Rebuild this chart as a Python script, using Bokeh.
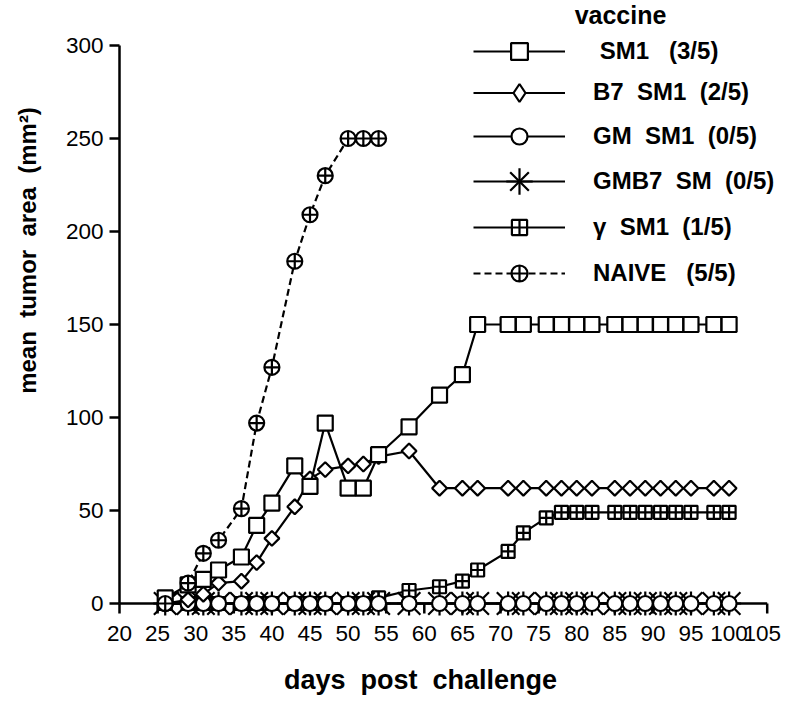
import math
from bokeh.plotting import figure
from bokeh.models import Range1d, Legend, LegendItem, Label
from bokeh.embed import file_html
from bokeh.resources import INLINE
from bokeh.core.properties import value

# ---- data ----
days = [26, 29, 31, 33, 36, 38, 40, 43, 45, 47, 50, 52, 54, 58, 62, 65, 67,
        71, 73, 76, 78, 80, 82, 85, 87, 89, 91, 93, 95, 98, 100]
sm1 = [3, 10, 13, 18, 25, 42, 54, 74, 63, 97, 62, 62, 80, 95, 112, 123, 150,
       150, 150, 150, 150, 150, 150, 150, 150, 150, 150, 150, 150, 150, 150]
b7_sm1 = [0, 2, 5, 11, 12, 22, 35, 52, 67, 72, 74, 75, 79, 82, 62, 62, 62,
          62, 62, 62, 62, 62, 62, 62, 62, 62, 62, 62, 62, 62, 62]
gm_sm1 = [0] * len(days)
gmb7_sm = [0] * len(days)
gamma_sm1 = [0, 0, 0, 0, 0, 0, 0, 0, 0, 0, 0, 0, 3, 7, 9, 12, 18,
             28, 38, 46, 49, 49, 49, 49, 49, 49, 49, 49, 49, 49, 49]
naive_days = [26, 29, 31, 33, 36, 38, 40, 43, 45, 47, 50, 52, 54]
naive = [0, 11, 27, 34, 51, 97, 127, 184, 209, 230, 250, 250, 250]

NB = "\u00a0"
labels = [NB + "SM1" + NB * 3 + "(3/5)",
          "B7" + NB * 2 + "SM1" + NB * 2 + "(2/5)",
          "GM" + NB * 2 + "SM1" + NB * 2 + "(0/5)",
          "GMB7" + NB * 2 + "SM" + NB * 2 + "(0/5)",
          "\u03b3" + NB * 2 + "SM1" + NB * 2 + "(1/5)",
          "NAIVE" + NB * 3 + "(5/5)"]
legend_title = "vaccine"
x_ticks = list(range(20, 106, 5))
y_ticks = list(range(0, 301, 50))
x_title = "days" + NB * 2 + "post" + NB * 2 + "challenge"
y_title = "mean" + NB * 2 + "tumor" + NB * 2 + "area" + NB * 2 + "(mm\u00b2)"

FONT = "Liberation Sans"

# ---- layout (pixels) ----
W, H = 783, 696
AX_X, AX_Y = 119, 603      # canvas pixel of the axes origin (day 20, 0 mm2)
PX_X = 7.62                # px per day
PX_Y = 1.86                # px per mm2
XA = x_ticks[0]
X0 = XA - AX_X / PX_X
X1 = XA + (W - AX_X) / PX_X
Y0 = -(H - AX_Y) / PX_Y
Y1 = AX_Y / PX_Y

p = figure(width=W, height=H, output_backend="svg", toolbar_location=None,
           title=None, x_axis_location=None, y_axis_location=None,
           x_range=Range1d(X0, X1), y_range=Range1d(Y0, Y1),
           min_border_left=0, min_border_right=0, min_border_top=0,
           min_border_bottom=0)
p.outline_line_color = None
p.grid.visible = False
p.background_fill_color = "white"

AXW = 2.5
TICK = 10
# x axis: line at 0, downward ticks, labels (last label nudged left, as in the original)
p.segment(x0=[x_ticks[0]], y0=[0], x1=[x_ticks[-1]], y1=[0], line_color="black", line_width=AXW)
p.segment(x0=x_ticks, y0=[0] * len(x_ticks), x1=x_ticks,
          y1=[-TICK / PX_Y] * len(x_ticks), line_color="black", line_width=AXW)
x_off = [0] * (len(x_ticks) - 1) + [-5]
p.text(x=x_ticks, y=[-30 / PX_Y] * len(x_ticks), text=[str(t) for t in x_ticks],
       x_offset=x_off, text_font=value(FONT), text_font_size="22.5px", text_color="black",
       text_align="center", text_baseline="middle")
# y axis: line at day 20, left ticks, labels
p.segment(x0=[XA], y0=[y_ticks[0]], x1=[XA], y1=[y_ticks[-1]], line_color="black", line_width=AXW)
p.segment(x0=[XA - TICK / PX_X] * len(y_ticks), y0=y_ticks, x1=[XA] * len(y_ticks),
          y1=y_ticks, line_color="black", line_width=AXW)
p.text(x=[XA - 16 / PX_X] * len(y_ticks), y=y_ticks, text=[str(t) for t in y_ticks],
       text_font=value(FONT), text_font_size="22.5px", text_color="black",
       text_align="right", text_baseline="middle")

LW = 2.2
K = dict(line_color="black", line_width=LW)

# drawing order: gamma and the asterisks under the circles, squares / diamonds on top
r_g_l = p.line(days, gamma_sm1, **K)
r_g = p.scatter(days, gamma_sm1, marker="square_cross", size=13, fill_color="white", **K)

r_gmb7_l = p.line(days, gmb7_sm, **K)
r_gmb7_x = p.scatter(days, gmb7_sm, marker="x", size=32, **K)
r_gmb7_c = p.scatter(days, gmb7_sm, marker="cross", size=24, **K)

r_gm_l = p.line(days, gm_sm1, **K)
r_gm = p.scatter(days, gm_sm1, marker="circle", size=15, fill_color="white", **K)

r_b7_l = p.line(days, b7_sm1, **K)
r_b7_key = p.scatter(days, b7_sm1, marker="diamond", size=1, fill_color="white", **K)
r_b7 = p.scatter(days, b7_sm1, marker="square", angle=math.pi / 4, size=10.5,
                 fill_color="white", **K)

r_sm_l = p.line(days, sm1, **K)
r_sm = p.scatter(days, sm1, marker="square", size=15, fill_color="white", **K)

r_n_l = p.line(naive_days, naive, line_dash="7 4", **K)
r_n = p.scatter(naive_days, naive, marker="circle_cross", size=15, fill_color="white", **K)

# one legend per row so each key marker gets its own size
rows = [  # (label, renderers, glyph height -> key marker size = 0.4 * height, row centre px)
    (labels[0], [r_sm_l, r_sm], 42, 51),
    (labels[1], [r_b7_l, r_b7_key], 45, 92),
    (labels[2], [r_gm_l, r_gm], 40, 136),
    (labels[3], [r_gmb7_l, r_gmb7_x, r_gmb7_c], 66, 181),
    (labels[4], [r_g_l, r_g], 38, 227),
    (labels[5], [r_n_l, r_n], 40, 273),
]
for lab, rends, gh, cy in rows:
    lg = Legend(items=[LegendItem(label=lab, renderers=rends)],
                location=(473, (H - cy) - gh / 2))
    lg.padding = 0
    lg.margin = 0
    lg.border_line_color = None
    lg.background_fill_alpha = 0
    lg.glyph_width = 92
    lg.glyph_height = gh
    lg.label_height = 20
    lg.label_standoff = 28
    lg.label_text_font = FONT
    lg.label_text_font_size = "24px"
    lg.label_text_font_style = "bold"
    lg.label_text_color = "black"
    lg.label_text_baseline = "middle"
    p.add_layout(lg, "center")

TXT = dict(x_units="screen", y_units="screen", text_font=FONT, text_font_style="bold",
           text_color="black", text_align="center", text_baseline="middle")
p.add_layout(Label(x=620, y=H - 14, text=legend_title, text_font_size="25px", **TXT))
p.add_layout(Label(x=27, y=H - 250, text=y_title, angle=math.pi / 2,
                   text_font_size="24px", **TXT))
p.add_layout(Label(x=420, y=H - 679, text=x_title, text_font_size="27px", **TXT))

open("out.html", "w").write(file_html(p, INLINE))
